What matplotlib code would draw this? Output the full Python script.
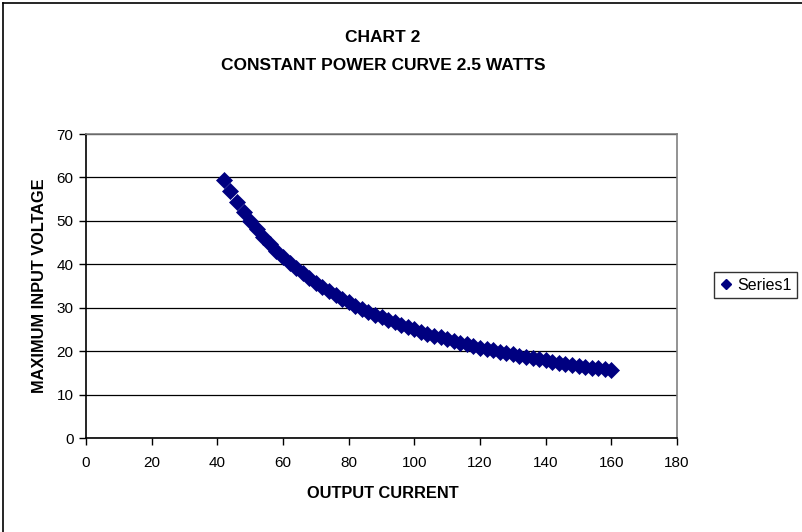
import matplotlib
matplotlib.use("Agg")
import matplotlib.pyplot as plt
from matplotlib.lines import Line2D

plt.rcParams['font.family'] = ['Liberation Sans', 'DejaVu Sans']

# Data (output current vs maximum input voltage)
current = [42, 44, 46, 48, 50, 52, 54, 56, 58, 60,
           62, 64, 66, 68, 70, 72, 74, 76, 78, 80,
           82, 84, 86, 88, 90, 92, 94, 96, 98, 100,
           102, 104, 106, 108, 110, 112, 114, 116, 118, 120,
           122, 124, 126, 128, 130, 132, 134, 136, 138, 140,
           142, 144, 146, 148, 150, 152, 154, 156, 158, 160]
voltage = [59.52, 56.82, 54.35, 52.08, 50.00, 48.08, 46.30, 44.64, 43.10, 41.67,
           40.32, 39.06, 37.88, 36.76, 35.71, 34.72, 33.78, 32.89, 32.05, 31.25,
           30.49, 29.76, 29.07, 28.41, 27.78, 27.17, 26.60, 26.04, 25.51, 25.00,
           24.51, 24.04, 23.58, 23.15, 22.73, 22.32, 21.93, 21.55, 21.19, 20.83,
           20.49, 20.16, 19.84, 19.53, 19.23, 18.94, 18.66, 18.38, 18.12, 17.86,
           17.61, 17.36, 17.12, 16.89, 16.67, 16.45, 16.23, 16.03, 15.82, 15.63]
x_ticks = [0, 20, 40, 60, 80, 100, 120, 140, 160, 180]
y_ticks = [0, 10, 20, 30, 40, 50, 60, 70]
series_name = "Series1"
title_lines = ["CHART 2", "CONSTANT POWER CURVE 2.5 WATTS"]
x_label = "OUTPUT CURRENT"
y_label = "MAXIMUM INPUT VOLTAGE"

W, H = 802, 532
fig = plt.figure(figsize=(W / 100, H / 100), dpi=100)

# outer chart border (left and top visible)
fig.add_artist(Line2D([3 / W, 3 / W], [0, 1 - 3 / H], color='black', lw=1.2,
                      transform=fig.transFigure))
fig.add_artist(Line2D([3 / W, 1], [1 - 3 / H, 1 - 3 / H], color='black', lw=1.2,
                      transform=fig.transFigure))

left, right, top, bottom = 86, 677, 134, 438
ax = fig.add_axes([left / W, (H - bottom) / H, (right - left) / W, (bottom - top) / H])

navy = '#000080'
ax.plot(current, voltage, linestyle='none', marker='D', markersize=8.2,
        color=navy, markeredgecolor=navy, markeredgewidth=0.5,
        label=series_name, zorder=3)

ax.set_xlim(0, 180)
ax.set_ylim(0, 70)
ax.set_xticks(x_ticks)
ax.set_yticks(y_ticks)
ax.tick_params(axis='both', labelsize=11, direction='out', length=5, width=1,
               colors='black')
ax.tick_params(axis='x', pad=8)
ax.tick_params(axis='y', pad=4)
ax.yaxis.grid(True, color='black', lw=0.9)
ax.set_axisbelow(True)
for s in ['top', 'right']:
    ax.spines[s].set_color('#808080')
    ax.spines[s].set_linewidth(1.2)
for s in ['left', 'bottom']:
    ax.spines[s].set_color('black')
    ax.spines[s].set_linewidth(1.2)

fig.text(383 / W, 1 - 37 / H, title_lines[0], ha='center', va='center',
         fontsize=12.5, fontweight='bold')
fig.text(383 / W, 1 - 65 / H, title_lines[1], ha='center', va='center',
         fontsize=12.5, fontweight='bold')
fig.text(383 / W, 1 - 493 / H, x_label, ha='center', va='center',
         fontsize=11.8, fontweight='bold')
fig.text(40 / W, 1 - 286 / H, y_label, ha='center', va='center',
         fontsize=11.8, fontweight='bold', rotation=90)

leg = fig.legend(handles=[Line2D([], [], linestyle='none', marker='D', markersize=5.3,
                                 color=navy)],
                 labels=[series_name], loc='center left',
                 bbox_to_anchor=(714 / W, 1 - 285 / H), fontsize=11.5,
                 frameon=True, fancybox=False, edgecolor='black',
                 handlelength=0.8, handletextpad=0.3, borderpad=0.35,
                 borderaxespad=0)
leg.get_frame().set_linewidth(1.0)

fig.savefig('out.png', dpi=100)
